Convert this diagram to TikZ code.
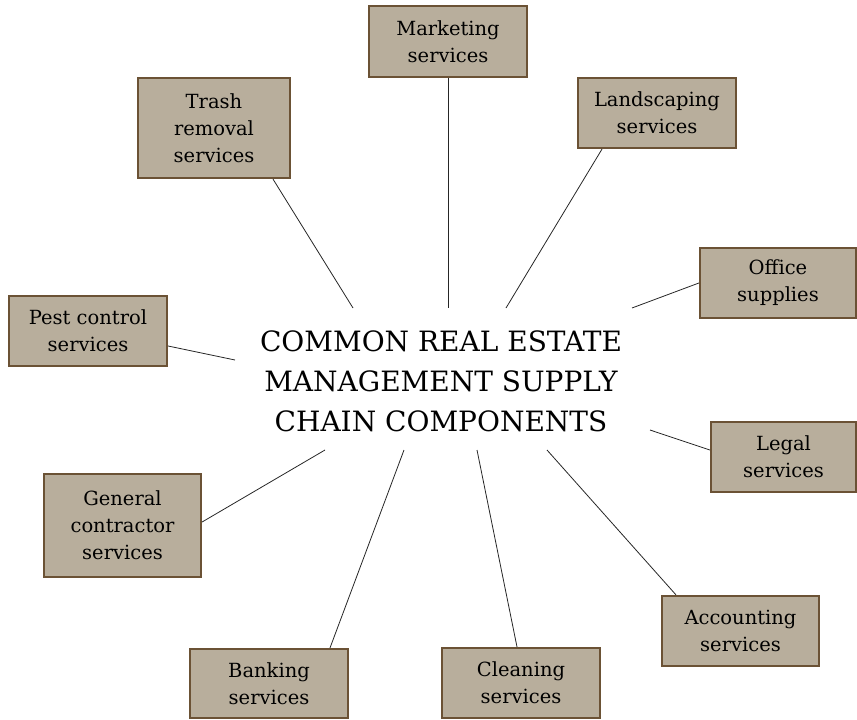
\documentclass[tikz,border=0pt]{standalone}
\usepackage{fontspec}
\setmainfont{DejaVu Serif}
\definecolor{boxfill}{HTML}{B8AE9C}
\definecolor{boxline}{HTML}{6B5235}
\begin{document}
\begin{tikzpicture}[x=1pt,y=-1pt,
  svc/.style={draw=boxline,line width=2.2pt,fill=boxfill,inner sep=0pt,
    font=\fontsize{19.5}{27}\selectfont,align=center},
  conn/.style={draw=black!85,line width=0.8pt}]
\useasboundingbox (0,0) rectangle (857,720);
\node[svc,minimum width=158pt,minimum height=71pt] (mkt) at (448,41.5) {Marketing\\services};
\node[svc,minimum width=152pt,minimum height=100pt] (trash) at (214,128) {Trash\\removal\\services};
\node[svc,minimum width=158pt,minimum height=70pt] (land) at (657,113) {Landscaping\\services};
\node[svc,minimum width=156pt,minimum height=70pt] (office) at (778,283) {Office\\supplies};
\node[svc,minimum width=158pt,minimum height=70pt] (pest) at (88,331) {Pest control\\services};
\node[svc,minimum width=145pt,minimum height=70pt] (legal) at (783.5,457) {Legal\\services};
\node[svc,minimum width=157pt,minimum height=103pt] (gen) at (122.5,525.5) {General\\contractor\\services};
\node[svc,minimum width=157pt,minimum height=70pt] (acct) at (740.5,631) {Accounting\\services};
\node[svc,minimum width=158pt,minimum height=69pt] (bank) at (269,683.5) {Banking\\services};
\node[svc,minimum width=158pt,minimum height=70pt] (clean) at (521,683) {Cleaning\\services};
\node[font=\fontsize{28}{40}\selectfont,align=center] (hub) at (441,381) {COMMON REAL ESTATE\\MANAGEMENT SUPPLY\\CHAIN COMPONENTS};
\coordinate (cMkt) at (448,308);
\coordinate (cTrash) at (353,308);
\coordinate (cLand) at (506,308);
\coordinate (cOffice) at (632,308);
\coordinate (cPest) at (235,360);
\coordinate (cLegal) at (650,430);
\coordinate (cGen) at (325,450);
\coordinate (cAcct) at (547,450);
\coordinate (cBank) at (404,450);
\coordinate (cClean) at (477,450);
\draw[conn] (mkt.south) -- (cMkt);
\draw[conn] (trash.south) ++(59,0) -- (cTrash);
\draw[conn] (land.south) ++(-55,0) -- (cLand);
\draw[conn] (office.west) -- (cOffice);
\draw[conn] (pest.east) ++(0,15) -- (cPest);
\draw[conn] (legal.west) ++(0,-7) -- (cLegal);
\draw[conn] (gen.east) ++(0,-3.5) -- (cGen);
\draw[conn] (acct.north) ++(-64.5,0) -- (cAcct);
\draw[conn] (bank.north) ++(61,0) -- (cBank);
\draw[conn] (clean.north) ++(-4,0) -- (cClean);
\end{tikzpicture}
\end{document}
